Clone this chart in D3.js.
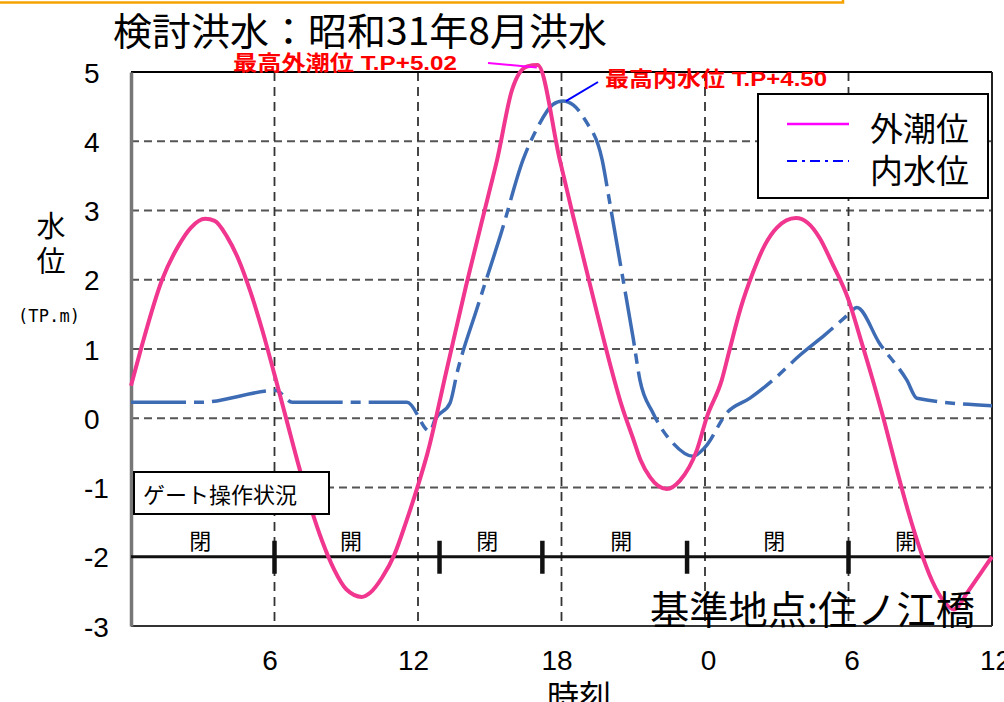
<!DOCTYPE html>
<html><head><meta charset="utf-8">
<script src="https://cdn.jsdelivr.net/npm/d3@7"></script>
<style>body{margin:0;background:#fff}svg{display:block}</style>
</head><body><svg id="c" width="1004" height="702"></svg>
<script>
// ---------- data ----------
const yTickValues = [5, 4, 3, 2, 1, 0, -1, -2, -3];
const yTickLabels = ["5", "4", "3", "2", "1", "0", "-1", "-2", "-3"];
const xTickHours = [6, 12, 18, 24, 30, 36];
const xTickLabels = ["6", "12", "18", "0", "6", "12"];
const gridHours = [6, 12, 18, 24, 30];
const gridValues = [4, 3, 2, 1, 0, -1];

// 外潮位 (outer tide level)
const pinkHours  = [0, 0.4, 1.3, 2, 2.5, 3.1, 3.5, 4, 4.5, 5, 5.5, 6, 6.5, 7, 7.5, 8, 8.5, 9, 9.65, 10, 10.5, 11, 11.5, 12, 12.4, 13.2, 14, 15, 15.3, 15.93, 16.56, 17.0, 17.93, 18.5, 19, 19.5, 20, 20.5, 21, 21.3, 21.7, 22.4, 22.95, 23.66, 24.08, 24.7, 25, 25.5, 26, 26.5, 27, 27.8, 28.3, 28.8, 29.3, 30, 30.5, 31, 31.5, 32, 32.5, 33, 33.5, 34, 34.4, 35, 35.5, 36];
const pinkValues = [0.47, 0.98, 2.0, 2.5, 2.75, 2.88, 2.85, 2.63, 2.29, 1.82, 1.26, 0.63, -0.02, -0.67, -1.27, -1.78, -2.19, -2.47, -2.58, -2.52, -2.3, -1.98, -1.5, -0.97, -0.5, 0.7, 1.9, 3.3, 3.72, 4.74, 5.08, 5.1, 3.73, 2.9, 2.2, 1.5, 0.82, 0.2, -0.3, -0.6, -0.85, -1.02, -0.9, -0.46, 0.02, 0.55, 0.95, 1.6, 2.1, 2.5, 2.75, 2.89, 2.82, 2.6, 2.25, 1.71, 1.15, 0.57, -0.05, -0.72, -1.35, -1.9, -2.35, -2.65, -2.76, -2.5, -2.25, -2.0];

// 内水位 (inner water level)
const blueHours  = [0, 2.9, 6.06, 6.74, 11.54, 12.5, 12.71, 13.34, 13.63, 14.5, 15.5, 16.39, 17.0, 17.64, 18.06, 18.5, 19.0, 19.7, 20.0, 20.5, 21.0, 21.28, 21.82, 22.66, 23.5, 24.0, 24.92, 25.88, 26.84, 28.0, 29.0, 30.0, 30.35, 31.3, 32.44, 32.86, 36];
const blueValues = [0.23, 0.23, 0.40, 0.23, 0.23, -0.19, -0.02, 0.22, 0.65, 1.62, 2.7, 3.73, 4.2, 4.53, 4.58, 4.52, 4.3, 3.73, 3.15, 2.15, 1.15, 0.55, 0.08, -0.36, -0.55, -0.42, 0.08, 0.29, 0.55, 0.92, 1.2, 1.5, 1.6, 1.08, 0.55, 0.29, 0.18];

const gateLevel = -2;
const gateSwitchHours = [6, 12.9, 17.2, 23.25, 30];
const gateLabels = ["閉", "開", "閉", "開", "閉", "開"];
const gateLabelHours = [2.9, 9.2, 14.9, 20.5, 26.9, 32.4];

const seriesNames = ["外潮位", "内水位"];
const outerPeak = {hour: 16.8, value: 5.08, label: "最高外潮位 T.P+5.02"};
const innerPeak = {hour: 18.06, value: 4.58, label: "最高内水位 T.P+4.50"};

// ---------- drawing ----------
const CJK = "'Noto Sans CJK JP', sans-serif";
const MIX = "'Liberation Sans', 'Noto Sans CJK JP', sans-serif";
const svg = d3.select("#c");
const x = d3.scaleLinear().domain([0, 36]).range([131, 992]);
const y = d3.scaleLinear().domain([-3, 5]).range([626, 72]);

// orange strip at top (cut-off frame)
svg.append("rect").attr("x", -3).attr("y", -20).attr("width", 846).attr("height", 22.5)
  .attr("fill", "#fff").attr("stroke", "#f5a300").attr("stroke-width", 2.5);

// title
svg.append("text").attr("x", 113).attr("y", 45).attr("font-family", CJK).attr("font-size", 38)
  .attr("textLength", 494).attr("lengthAdjust", "spacingAndGlyphs").attr("fill", "#000")
  .text("検討洪水：昭和31年8月洪水");

// grid
const g = svg.append("g");
g.selectAll("line.hg").data(gridValues).join("line").attr("class", "hg")
  .attr("x1", x(0)).attr("x2", x(36)).attr("y1", d => y(d)).attr("y2", d => y(d))
  .attr("stroke", "#555").attr("stroke-width", 1.8).attr("stroke-dasharray", "8,5");
g.selectAll("line.vg").data(gridHours).join("line").attr("class", "vg")
  .attr("x1", d => x(d)).attr("x2", d => x(d)).attr("y1", y(5)).attr("y2", y(-3))
  .attr("stroke", "#333").attr("stroke-width", 1.8).attr("stroke-dasharray", "9,6");

// frame
g.append("line").attr("x1", x(0)).attr("x2", x(36)).attr("y1", y(5)).attr("y2", y(5)).attr("stroke", "#000").attr("stroke-width", 1.8);
g.append("line").attr("x1", x(36)).attr("x2", x(36)).attr("y1", y(5)).attr("y2", y(-3)).attr("stroke", "#222").attr("stroke-width", 2);
g.append("line").attr("x1", x(0)).attr("x2", x(36)).attr("y1", y(-3)).attr("y2", y(-3)).attr("stroke", "#333").attr("stroke-width", 2);

// y axis
const yAxis = d3.axisLeft(y).tickValues(yTickValues).tickSize(0).tickFormat((d, i) => yTickLabels[i]);
const ya = svg.append("g").attr("transform", `translate(${x(0)},0)`).call(yAxis);
ya.select(".domain").attr("stroke", "#777").attr("stroke-width", 3.5);
ya.selectAll("text").attr("x", 84 - x(0)).attr("dy", "0.36em").attr("text-anchor", "start")
  .attr("font-family", MIX).attr("font-size", 28).attr("fill", "#000");

// x axis labels
const xAxis = d3.axisBottom(x).tickValues(xTickHours).tickSize(0).tickFormat((d, i) => xTickLabels[i]);
const xa = svg.append("g").attr("transform", `translate(0,${y(-3)})`).call(xAxis);
xa.select(".domain").remove();
xa.selectAll("text").attr("y", 44).attr("dy", 0).attr("dx", (d, i) => i < 3 ? -5 : 3)
  .attr("font-family", MIX).attr("font-size", 28).attr("fill", "#000");

// gate operation
svg.append("line").attr("x1", x(0)).attr("x2", x(36)).attr("y1", y(gateLevel)).attr("y2", y(gateLevel))
  .attr("stroke", "#111").attr("stroke-width", 3);
svg.selectAll("line.gt").data(gateSwitchHours).join("line").attr("class", "gt")
  .attr("x1", d => x(d)).attr("x2", d => x(d)).attr("y1", y(gateLevel) - 16).attr("y2", y(gateLevel) + 17)
  .attr("stroke", "#111").attr("stroke-width", 4.5);
svg.selectAll("text.gl").data(gateLabels).join("text").attr("class", "gl")
  .attr("x", (d, i) => x(gateLabelHours[i])).attr("y", y(gateLevel) - 8).attr("text-anchor", "middle")
  .attr("font-family", CJK).attr("font-size", 22).attr("fill", "#000").text(d => d);

// curves
const line = d3.line().x(d => x(d[0])).y(d => y(d[1])).curve(d3.curveMonotoneX);
svg.append("path").datum(blueHours.map((h, i) => [h, blueValues[i]])).attr("d", line)
  .attr("fill", "none").attr("stroke", "#3d6cb4").attr("stroke-width", 3.5)
  .attr("stroke-dasharray", "55,8,10,8").attr("stroke-linejoin", "round");
svg.append("path").datum(pinkHours.map((h, i) => [h, pinkValues[i]])).attr("d", line)
  .attr("fill", "none").attr("stroke", "#f0368e").attr("stroke-width", 4).attr("stroke-linejoin", "round");

// gate box
svg.append("rect").attr("x", 134).attr("y", 472).attr("width", 195).attr("height", 42)
  .attr("fill", "#fff").attr("stroke", "#000").attr("stroke-width", 2);
svg.append("text").attr("x", 143).attr("y", 503).attr("font-family", CJK).attr("font-size", 22)
  .attr("fill", "#000").text("ゲート操作状況");

// annotations
svg.append("text").attr("x", 233).attr("y", 70).attr("font-family", MIX).attr("font-weight", "bold")
  .attr("font-size", 21).attr("fill", "#ff0000").attr("textLength", 224).attr("lengthAdjust", "spacingAndGlyphs")
  .text(outerPeak.label);
svg.append("line").attr("x1", 488).attr("y1", 63).attr("x2", x(outerPeak.hour) + 4).attr("y2", y(outerPeak.value) + 1)
  .attr("stroke", "#ff00ff").attr("stroke-width", 2);
svg.append("text").attr("x", 605).attr("y", 86).attr("font-family", MIX).attr("font-weight", "bold")
  .attr("font-size", 21).attr("fill", "#ff0000").attr("textLength", 222).attr("lengthAdjust", "spacingAndGlyphs")
  .text(innerPeak.label);
svg.append("line").attr("x1", 598).attr("y1", 82).attr("x2", x(innerPeak.hour) + 3).attr("y2", y(innerPeak.value))
  .attr("stroke", "#0000ff").attr("stroke-width", 2);

// legend
svg.append("rect").attr("x", 758).attr("y", 94).attr("width", 230).attr("height", 104)
  .attr("fill", "#fff").attr("stroke", "#000").attr("stroke-width", 2);
svg.append("line").attr("x1", 787).attr("x2", 849).attr("y1", 124).attr("y2", 124)
  .attr("stroke", "#ff00ff").attr("stroke-width", 2.5);
svg.append("line").attr("x1", 787).attr("x2", 849).attr("y1", 161).attr("y2", 161)
  .attr("stroke", "#0000ff").attr("stroke-width", 2).attr("stroke-dasharray", "10,5,3,5");
svg.selectAll("text.lg").data(seriesNames).join("text").attr("class", "lg")
  .attr("x", 870).attr("y", (d, i) => i === 0 ? 140.5 : 182.5)
  .attr("font-family", CJK).attr("font-size", 33).attr("fill", "#000").text(d => d);

// y axis title
svg.append("text").attr("x", 51).attr("y", 237).attr("text-anchor", "middle").attr("font-family", CJK).attr("font-size", 29).text("水");
svg.append("text").attr("x", 51).attr("y", 272).attr("text-anchor", "middle").attr("font-family", CJK).attr("font-size", 29).text("位");
svg.append("text").attr("x", 18).attr("y", 322).attr("font-family", "'DejaVu Sans Mono', monospace").attr("font-size", 17)
  .attr("textLength", 62).text("(TP.m)");

// station & x title
svg.append("text").attr("x", 650).attr("y", 624).attr("font-family", CJK).attr("font-size", 39)
  .attr("textLength", 325).attr("lengthAdjust", "spacingAndGlyphs").attr("fill", "#000").text("基準地点:住ノ江橋");
svg.append("text").attr("x", 579).attr("y", 708).attr("text-anchor", "middle").attr("font-family", CJK)
  .attr("font-size", 32).attr("fill", "#000").text("時刻");
</script></body></html>
